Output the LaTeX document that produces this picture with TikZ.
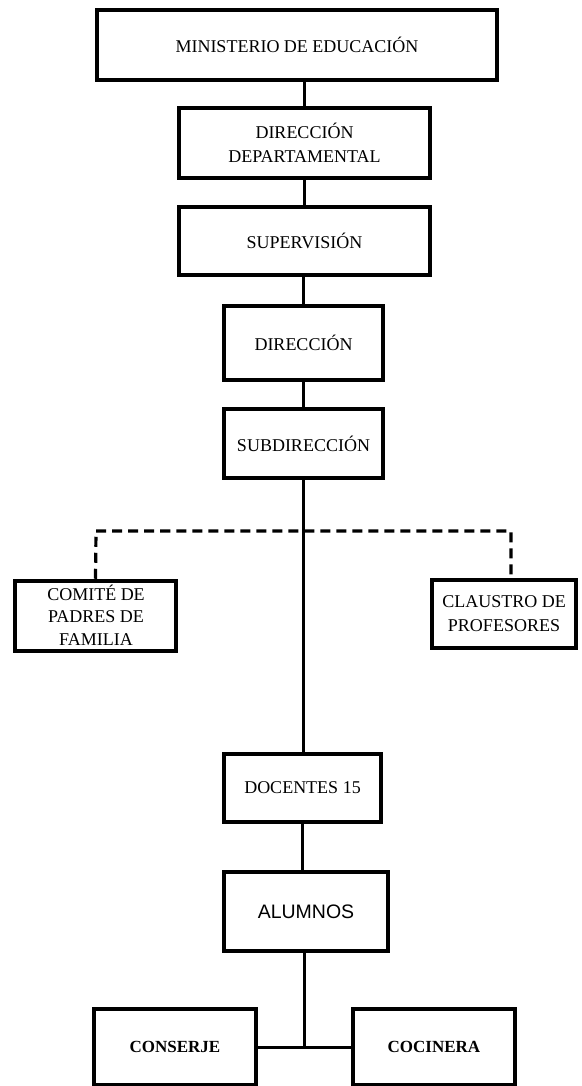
\documentclass[tikz,border=0pt]{standalone}
\usepackage{fontspec}
\setmainfont{Liberation Serif}
\newfontfamily\arialf{Liberation Sans}
\begin{document}
\begin{tikzpicture}[x=1pt,y=-1pt,
  box/.style={draw=black, line width=4.5pt, rectangle, inner sep=0pt, align=center,
    font=\fontsize{18}{24}\selectfont, text=black},
  txt/.style={inner sep=0pt, align=center, font=\fontsize{18}{22.5}\selectfont, text=black},
  conn/.style={draw=black, line width=3pt},
  dconn/.style={draw=black, line width=3.2pt, dash pattern=on 10pt off 6pt}]
\useasboundingbox (0,0) rectangle (581,1086);

\node[box, minimum width=400, minimum height=70] (min) at (297,45) {MINISTERIO DE EDUCACIÓN};
\node[box, minimum width=251, minimum height=70] (dep) at (304.5,143) {DIRECCIÓN\\DEPARTAMENTAL};
\node[box, minimum width=251, minimum height=68] (sup) at (304.5,241) {SUPERVISIÓN};
\node[box, minimum width=159, minimum height=74] (dir) at (303.5,343) {DIRECCIÓN};
\node[box, minimum width=159, minimum height=69] (sub) at (303.5,443.5) {SUBDIRECCIÓN};
\node[box, minimum width=161, minimum height=70] (com) at (95.5,616) {};
\node[txt] (comt) at (96,615) {COMITÉ DE\\PADRES DE\\FAMILIA};
\node[box, minimum width=144, minimum height=68] (cla) at (504,614) {CLAUSTRO DE\\PROFESORES};
\node[box, minimum width=157, minimum height=68] (doc) at (302.5,788) {DOCENTES 15};
\node[box, minimum width=164, minimum height=79, font=\arialf\fontsize{19.5}{24}\selectfont] (alu) at (306,911.5) {ALUMNOS};
\node[box, minimum width=162, minimum height=76, font=\fontsize{17}{22}\selectfont\bfseries] (con) at (175,1047) {CONSERJE};
\node[box, minimum width=162, minimum height=76, font=\fontsize{17}{22}\selectfont\bfseries] (coc) at (434,1047) {COCINERA};

\coordinate (dl) at (96,531);
\coordinate (dr) at (511,531);
\coordinate (bj) at (304,1047);

\draw[conn] (dep.north) -- (dep.north |- min.south);
\draw[conn] (sup.north) -- (sup.north |- dep.south);
\draw[conn] (dir.north) -- (dir.north |- sup.south);
\draw[conn] (sub.north) -- (dir.south);
\draw[dconn] (com.north) -- (dl) -- (dr) -- (dr |- cla.north);
\draw[conn] (sub.south) -- (sub.south |- doc.north);
\draw[conn] (doc.south) -- (doc.south |- alu.north);
\draw[conn] (bj |- alu.south) -- (bj);
\draw[conn] (con.east) -- (coc.west);
\end{tikzpicture}
\end{document}
